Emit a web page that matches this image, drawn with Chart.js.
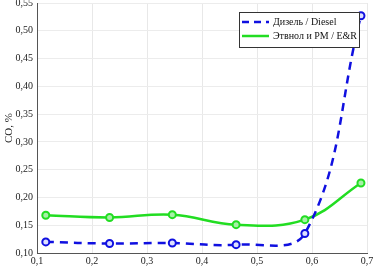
<!DOCTYPE html>
<html>
<head>
<meta charset="utf-8">
<script src="https://cdn.jsdelivr.net/npm/chart.js@4"></script>
<style>
  html, body { margin: 0; padding: 0; background: #fff; }
  #wrap { width: 373px; height: 269px; }
</style>
</head>
<body>
<div id="wrap"><canvas id="myChart" width="373" height="269"></canvas></div>
<script>
const loads = [0.116, 0.232, 0.346, 0.462, 0.587, 0.689];
const diesel = [0.120, 0.117, 0.118, 0.115, 0.135, 0.527];
const ethanol = [0.168, 0.164, 0.169, 0.151, 0.160, 0.226];
const seriesNames = ['Дизель / Diesel', 'Этвнол и РМ / E&R'];
const yLabel = 'CO, %';

const serif = 'Liberation Serif, Times New Roman, serif';
const comma = (v, d) => v.toFixed(d).replace('.', ',');

// legend box drawn inside the plot, top right
const boxLegend = {
  id: 'boxLegend',
  afterDraw(chart) {
    const c = chart.ctx;
    const x0 = 239, y0 = 12, w = 120, h = 35;
    c.save();
    c.fillStyle = '#fff';
    c.fillRect(x0, y0, w, h);
    c.strokeStyle = '#333';
    c.lineWidth = 1;
    c.strokeRect(x0 + 0.5, y0 + 0.5, w, h);
    c.font = '10px ' + serif;
    c.textBaseline = 'middle';
    c.fillStyle = '#111';
    const rows = [
      {name: seriesNames[0], color: '#1010e0', dash: [7, 5], y: y0 + 10},
      {name: seriesNames[1], color: '#22dd22', dash: [], y: y0 + 24}
    ];
    rows.forEach(r => {
      c.beginPath();
      c.setLineDash(r.dash);
      c.strokeStyle = r.color;
      c.lineWidth = 2.5;
      c.moveTo(x0 + 3, r.y);
      c.lineTo(x0 + 30, r.y);
      c.stroke();
      c.setLineDash([]);
      c.fillText(r.name, x0 + 34, r.y);
    });
    c.restore();
  }
};

const ctx = document.getElementById('myChart').getContext('2d');
const myChart = new Chart(ctx, {
  type: 'line',
  data: {
    datasets: [
      {
        label: seriesNames[0],
        data: loads.map((x, i) => ({x: x, y: diesel[i]})),
        borderColor: '#1010e0',
        borderWidth: 2.5,
        borderDash: [8, 6],
        tension: 0.4,
        pointRadius: 3.5,
        pointBorderWidth: 2,
        pointBorderColor: '#1010e0',
        pointBackgroundColor: '#dde0ff',
        clip: 6
      },
      {
        label: seriesNames[1],
        data: loads.map((x, i) => ({x: x, y: ethanol[i]})),
        borderColor: '#22dd22',
        borderWidth: 2.5,
        tension: 0.4,
        pointRadius: 3.5,
        pointBorderWidth: 2,
        pointBorderColor: '#22dd22',
        pointBackgroundColor: '#a8f0a8',
        clip: 6
      }
    ]
  },
  options: {
    responsive: false,
    animation: false,
    layout: {autoPadding: false, padding: {top: 3, right: 6, left: 0, bottom: 0}},
    plugins: {legend: {display: false}, tooltip: {enabled: false}},
    scales: {
      x: {
        type: 'linear',
        min: 0.1, max: 0.7,
        afterFit: s => { s.height = 16; s.paddingRight = 0; s.paddingLeft = 0; },
        ticks: {stepSize: 0.1, color: '#222', font: {family: serif, size: 10}, padding: 2,
          callback: v => comma(v, 1)},
        grid: {color: '#e8e8e8', tickLength: 0},
        border: {color: '#555'}
      },
      y: {
        min: 0.10, max: 0.55,
        afterFit: s => { s.width = 37; s.paddingTop = 0; s.paddingBottom = 0; },
        ticks: {stepSize: 0.05, color: '#222', font: {family: serif, size: 10}, padding: 4,
          callback: v => comma(v, 2)},
        grid: {color: '#ececec', tickLength: 0},
        border: {color: '#555'},
        title: {display: true, text: yLabel, color: '#222', font: {family: serif, size: 11}, padding: {top: 3, bottom: 0}}
      }
    }
  },
  plugins: [boxLegend]
});
</script>
</body>
</html>
